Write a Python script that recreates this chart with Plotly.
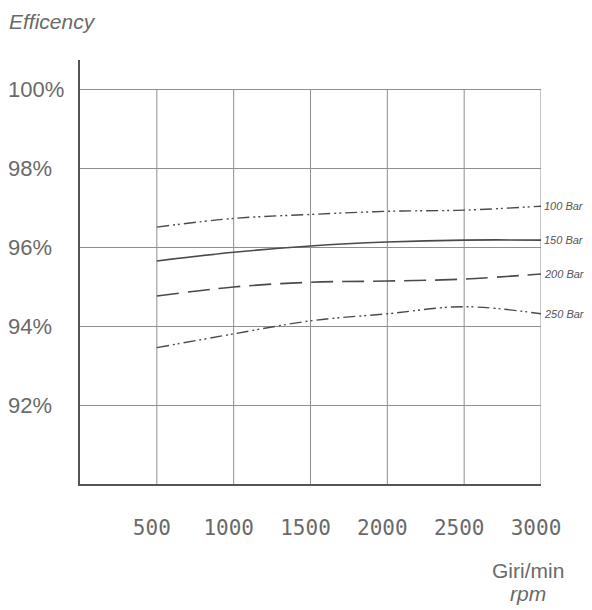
import plotly.graph_objects as go

rpm = [500, 1000, 1500, 2000, 2500, 3000]
series_names = ["100 Bar", "150 Bar", "200 Bar", "250 Bar"]
eff_100 = [96.52, 96.74, 96.84, 96.92, 96.95, 97.05]
eff_150 = [95.66, 95.88, 96.04, 96.14, 96.19, 96.19]
eff_200 = [94.77, 95.00, 95.12, 95.15, 95.20, 95.33]
eff_250 = [93.46, 93.81, 94.14, 94.32, 94.50, 94.32]
y_tick_vals = [92, 94, 96, 98, 100]
y_tick_text = ["92%", "94%", "96%", "98%", "100%"]
x_tick_text = ["500", "1000", "1500", "2000", "2500", "3000"]

series = [eff_100, eff_150, eff_200, eff_250]
dashes = ["12px,4px,2px,3px,2px,4px", "solid", "22px,9px", "12px,4px,2px,3px,2px,4px"]
widths = [1.4, 1.6, 1.6, 1.4]

fig = go.Figure()
for name, vals, d, w in zip(series_names, series, dashes, widths):
    fig.add_trace(go.Scatter(x=rpm, y=vals, mode="lines", name=name,
                             line=dict(color="#4a4a4a", width=w, dash=d, shape="spline")))
    fig.add_annotation(x=rpm[-1], y=vals[-1], text="<i>" + name + "</i>", showarrow=False,
                       xanchor="left", yanchor="middle", xshift=1,
                       font=dict(family="Liberation Sans", size=11, color="#555"))

# vertical grid lines (from 100% down to the bottom axis)
for xv in rpm:
    fig.add_shape(type="line", x0=xv, x1=xv, y0=90, y1=100, xref="x", yref="y",
                  line=dict(color="#8f8f8f", width=1), layer="below")

# y tick labels, left aligned
for v, t in zip(y_tick_vals, y_tick_text):
    fig.add_annotation(x=-0.16, xref="paper", y=v, yref="y", text=t, showarrow=False,
                       xanchor="left", yanchor="middle",
                       font=dict(family="Liberation Sans", size=22, color="#6a6a6a"))

fig.add_annotation(x=-0.158, xref="paper", y=1.09, yref="paper", yanchor="middle",
                   text="<i>Efficency</i>", showarrow=False, xanchor="left",
                   font=dict(family="Liberation Sans", size=21, color="#6a6a6a"))

fig.add_annotation(x=0.972, xref="paper", y=-0.205, yref="paper",
                   text="Giri/min", showarrow=False, xanchor="center", yanchor="middle",
                   font=dict(family="Liberation Sans", size=21, color="#6a6a6a"))
fig.add_annotation(x=0.972, xref="paper", y=-0.258, yref="paper",
                   text="<i>rpm</i>", showarrow=False, xanchor="center", yanchor="middle",
                   font=dict(family="Liberation Sans", size=21, color="#6a6a6a"))

fig.update_layout(
    width=584, height=602,
    margin=dict(l=72, r=51, t=52, b=126),
    paper_bgcolor="white", plot_bgcolor="white",
    showlegend=False,
    xaxis=dict(range=[0, 3000], tickvals=rpm, ticktext=x_tick_text, showgrid=False,
               showline=True, linecolor="#555", linewidth=1.5, zeroline=False,
               ticks="", ticklabelstandoff=24, ticklabelshift=-5,
               tickfont=dict(family="DejaVu Sans Mono", size=21, color="#6a6a6a")),
    yaxis=dict(range=[90, 100.76], tickvals=y_tick_vals, showticklabels=False,
               showgrid=True, gridcolor="#8f8f8f", gridwidth=1,
               showline=True, linecolor="#555", linewidth=1.5, zeroline=False, ticks=""),
)

fig.write_html("out.html")
